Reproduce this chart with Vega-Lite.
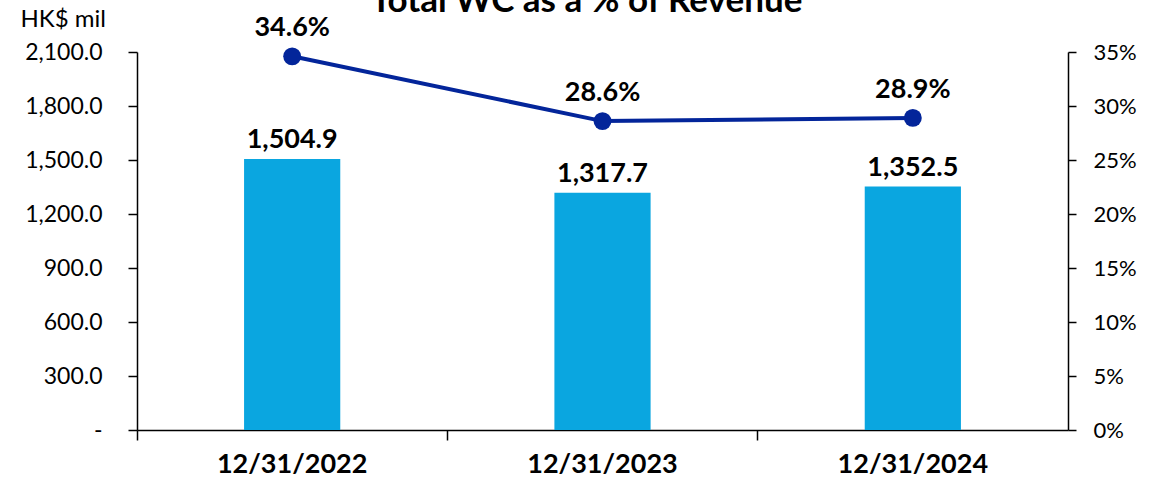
{
  "$schema": "https://vega.github.io/schema/vega-lite/v6.json",
  "autosize": {"type": "none"},
  "padding": {"left": 137, "top": 52, "right": 84, "bottom": 57},
  "width": 931,
  "height": 378,
  "background": "white",
  "config": {
    "font": "Lato",
    "view": {"stroke": null},
    "axis": {"domainColor": "black", "tickColor": "black", "labelColor": "black", "titleColor": "black", "grid": false, "labelFont": "Lato", "titleFont": "Lato"}
  },
  "title": {
    "text": "Total WC as a % of Revenue",
    "frame": "group",
    "anchor": "middle",
    "dx": -16,
    "offset": -40,
    "baseline": "alphabetic",
    "fontSize": 35,
    "fontWeight": "bold",
    "color": "black",
    "font": "Lato"
  },
  "data": {
    "values": [
      {"date": "12/31/2022", "amount": 1504.9, "pct": 0.346},
      {"date": "12/31/2023", "amount": 1317.7, "pct": 0.286},
      {"date": "12/31/2024", "amount": 1352.5, "pct": 0.289}
    ]
  },
  "encoding": {
    "x": {
      "field": "date",
      "type": "nominal",
      "sort": null,
      "scale": {"paddingInner": 0, "paddingOuter": 0},
      "axis": {
        "title": null,
        "labelAngle": 0,
        "bandPosition": 0,
        "labelFontSize": 27,
        "labelFontWeight": "bold",
        "tickSize": 10,
        "labelPadding": 11,
        "domainWidth": 1.5,
        "tickWidth": 1.5
      }
    }
  },
  "layer": [
    {
      "encoding": {
        "y": {
          "field": "amount",
          "type": "quantitative",
          "scale": {"domain": [0, 2100], "nice": false},
          "axis": {
            "values": [0, 300, 600, 900, 1200, 1500, 1800, 2100],
            "labelExpr": "datum.value == 0 ? '-' : format(datum.value, ',.1f')",
            "labelFontSize": 23,
            "tickSize": 9,
            "labelPadding": 26,
            "domainWidth": 1.5,
            "tickWidth": 1.5,
            "title": "HK$ mil",
            "titleAngle": 0,
            "titleAlign": "left",
            "titleBaseline": "middle",
            "titleFontWeight": "normal",
            "titleFontSize": 24,
            "titleX": -117,
            "titleY": -33
          }
        }
      },
      "layer": [
        {"mark": {"type": "bar", "color": "#0AA6E0", "width": {"band": 0.31}}},
        {
          "mark": {"type": "text", "baseline": "bottom", "dy": -5, "fontSize": 27, "fontWeight": "bold", "color": "black"},
          "encoding": {"text": {"field": "amount", "type": "quantitative", "format": ",.1f"}}
        }
      ]
    },
    {
      "encoding": {
        "y": {
          "field": "pct",
          "type": "quantitative",
          "scale": {"domain": [0, 0.35], "nice": false},
          "axis": {
            "orient": "right",
            "values": [0, 0.05, 0.1, 0.15, 0.2, 0.25, 0.3, 0.35],
            "format": ".0%",
            "labelFontSize": 22,
            "tickSize": 8,
            "labelPadding": 17,
            "domainWidth": 1.5,
            "tickWidth": 1.5,
            "title": null
          }
        }
      },
      "layer": [
        {"mark": {"type": "line", "color": "#03259A", "strokeWidth": 4}},
        {"mark": {"type": "point", "filled": true, "opacity": 1, "color": "#03259A", "size": 320}},
        {
          "mark": {"type": "text", "baseline": "bottom", "dy": -14, "fontSize": 27, "fontWeight": "bold", "color": "black"},
          "encoding": {"text": {"field": "pct", "type": "quantitative", "format": ".1%"}}
        }
      ]
    }
  ],
  "resolve": {"scale": {"y": "independent"}}
}
